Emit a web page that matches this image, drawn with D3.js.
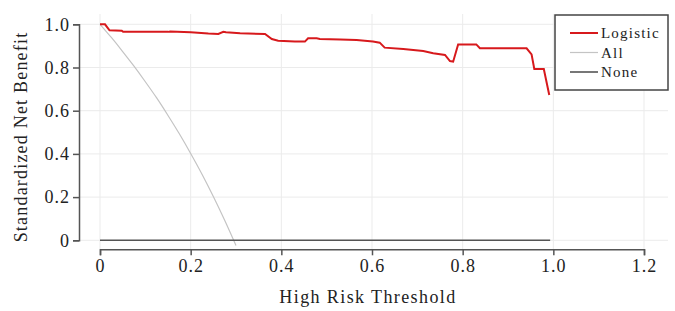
<!DOCTYPE html>
<html>
<head>
<meta charset="utf-8">
<script src="https://cdn.jsdelivr.net/npm/d3@7"></script>
<style>
  body { margin: 0; background: #fff; }
</style>
</head>
<body>
<script>
// threshold values
var logisticX = [0, 0.011, 0.021, 0.048, 0.051, 0.15, 0.155, 0.2, 0.239, 0.261, 0.272, 0.278, 0.309, 0.364, 0.379, 0.393, 0.43, 0.452, 0.459, 0.478, 0.485, 0.53, 0.566, 0.602, 0.617, 0.628, 0.669, 0.713, 0.735, 0.761, 0.772, 0.779, 0.79, 0.83, 0.838, 0.941, 0.952, 0.958, 0.979, 0.991];
var logisticY = [1.0, 1.0, 0.972, 0.970, 0.965, 0.965, 0.967, 0.963, 0.957, 0.955, 0.965, 0.963, 0.958, 0.955, 0.932, 0.924, 0.920, 0.920, 0.935, 0.935, 0.932, 0.930, 0.927, 0.920, 0.915, 0.892, 0.886, 0.876, 0.866, 0.858, 0.830, 0.827, 0.907, 0.907, 0.889, 0.889, 0.861, 0.793, 0.793, 0.673];
var allX = [0, 0.025, 0.05, 0.075, 0.1, 0.125, 0.15, 0.175, 0.2, 0.225, 0.25, 0.275, 0.3];
var allY = [1.0, 0.939, 0.874, 0.806, 0.734, 0.659, 0.578, 0.493, 0.402, 0.306, 0.203, 0.093, -0.024];
var noneX = [0, 0.993];
var noneY = [0, 0];
var xTicks = [0, 0.2, 0.4, 0.6, 0.8, 1.0, 1.2];
var yTicks = [0, 0.2, 0.4, 0.6, 0.8, 1.0];
var seriesNames = ["Logistic", "All", "None"];
var seriesColors = ["#d7191c", "#c4c4c4", "#555555"];

var serif = "'Liberation Serif', 'DejaVu Serif', serif";
var w = 675, h = 311;
var svg = d3.select("body").append("svg")
  .attr("width", w)
  .attr("height", h);

var x = d3.scaleLinear().domain([0, 1.2]).range([100, 644]);
var y = d3.scaleLinear().domain([0, 1]).range([240.3, 24.3]);
var yBottom = y(-0.041);

function fmt(d) { return d === 0 ? "0" : d3.format(".1f")(d); }

// grid
var grid = svg.append("g").attr("class", "grid");
grid.selectAll(".hg").data(yTicks).enter().append("line")
  .attr("x1", 80).attr("x2", 668)
  .attr("y1", function(d){ return y(d); })
  .attr("y2", function(d){ return y(d); })
  .style("stroke", "#ebebeb").style("stroke-width", 1);
grid.selectAll(".vg").data(xTicks).enter().append("line")
  .attr("y1", 14).attr("y2", yBottom)
  .attr("x1", function(d){ return x(d); })
  .attr("x2", function(d){ return x(d); })
  .style("stroke", "#ebebeb").style("stroke-width", 1);

// clip for the plot area
svg.append("clipPath").attr("id", "plotclip")
  .append("rect").attr("x", 80).attr("y", 10).attr("width", 590).attr("height", yBottom - 10);

var series = [
  d3.zip(allX, allY),
  d3.zip(noneX, noneY),
  d3.zip(logisticX, logisticY)
];
var seriesIdx = [1, 2, 0];
var widths = [2, 1.2, 1.6];

svg.append("g").attr("clip-path", "url(#plotclip)")
  .selectAll("path").data(series).enter().append("path")
  .attr("d", function(d, i){
    var ln = d3.line()
      .x(function(p){ return x(p[0]); })
      .y(function(p){ return y(p[1]); });
    if (seriesIdx[i] === 1) ln.curve(d3.curveMonotoneX);
    return ln(d);
  })
  .style("fill", "none")
  .style("stroke", function(d, i){ return seriesColors[seriesIdx[i]]; })
  .style("stroke-width", function(d, i){ return widths[seriesIdx[i]]; });

// axes
var xAxis = d3.axisBottom(x).tickValues(xTicks).tickFormat(fmt).tickSize(6).tickSizeOuter(6);
var gx = svg.append("g")
  .attr("transform", "translate(0," + 249.3 + ")")
  .call(xAxis);
var yAxis = d3.axisLeft(y).tickValues(yTicks).tickFormat(fmt).tickSize(6).tickSizeOuter(6);
var gy = svg.append("g")
  .attr("transform", "translate(79,0)")
  .call(yAxis);

[gx, gy].forEach(function(g){
  g.attr("font-family", serif).attr("font-size", 18);
  g.select(".domain").style("stroke", "#555").style("stroke-width", 1.5);
  g.selectAll(".tick line").style("stroke", "#555").style("stroke-width", 1.5);
  g.selectAll(".tick text")
    .attr("font-family", serif)
    .style("letter-spacing", "1px")
    .style("fill", "#222");
});
gx.selectAll(".tick text").attr("y", 10);
gy.selectAll(".tick text").attr("x", -9);

// axis titles
svg.append("text")
  .attr("x", 368).attr("y", 303)
  .attr("text-anchor", "middle")
  .attr("font-family", serif)
  .attr("font-size", 18)
  .style("letter-spacing", "1.4px")
  .style("fill", "#222")
  .text("High Risk Threshold");

svg.append("text")
  .attr("transform", "translate(26.5,137) rotate(-90)")
  .attr("text-anchor", "middle")
  .attr("font-family", serif)
  .attr("font-size", 18)
  .style("letter-spacing", "1.2px")
  .style("fill", "#222")
  .text("Standardized Net Benefit");

// legend
var legend = svg.append("g").attr("class", "legend");
legend.append("rect")
  .attr("x", 555).attr("y", 15).attr("width", 113).attr("height", 75)
  .style("fill", "#fff").style("stroke", "#444").style("stroke-width", 1.5);
var items = legend.selectAll(".item").data(seriesNames).enter().append("g")
  .attr("transform", function(d, i){ return "translate(0," + (33 + i * 19.5) + ")"; });
items.append("line")
  .attr("x1", 570).attr("x2", 598)
  .style("stroke", function(d, i){ return seriesColors[i]; })
  .style("stroke-width", function(d, i){ return widths[i]; });
items.append("text")
  .attr("x", 601).attr("y", 5)
  .attr("font-family", serif)
  .attr("font-size", 15)
  .style("letter-spacing", "1.2px")
  .style("fill", "#222")
  .text(function(d){ return d; });
</script>
</body>
</html>
